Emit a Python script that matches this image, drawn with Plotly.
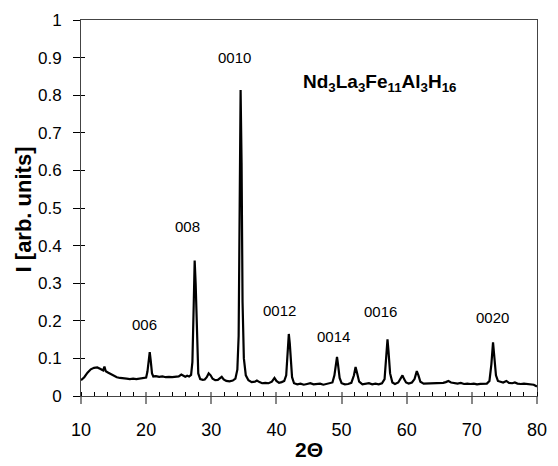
import plotly.graph_objects as go

# XRD pattern: diffraction angle 2-theta (deg) and normalised intensity
two_theta = [
    10.0, 10.5, 11.0, 11.5, 12.0, 12.5, 13.0, 13.4, 13.6, 13.8, 14.2, 14.6, 15.0, 15.5,
    16.0, 16.5, 17.0, 17.5, 18.0, 18.5, 19.0, 19.5, 20.0, 20.2, 20.4, 20.55, 20.7, 20.9,
    21.1, 21.5, 22.0, 22.5, 23.0, 23.5, 24.0, 24.5, 25.0, 25.4, 25.7, 26.0, 26.3, 26.6,
    26.9, 27.1, 27.3, 27.45, 27.6, 27.8, 28.0, 28.3, 28.7, 29.0, 29.3, 29.6, 29.9, 30.2,
    30.6, 31.0, 31.3, 31.6, 31.9, 32.3, 32.8, 33.3, 33.7, 34.0, 34.2, 34.35, 34.5, 34.65,
    34.8, 35.0, 35.3, 35.7, 36.2, 36.7, 37.0, 37.4, 37.8, 38.3, 38.8, 39.3, 39.7, 40.0,
    40.4, 40.8, 41.2, 41.5, 41.7, 41.9, 42.05, 42.2, 42.4, 42.7, 43.2, 43.7, 44.2, 44.7,
    45.2, 45.7, 46.2, 46.7, 47.2, 47.7, 48.2, 48.6, 48.9, 49.15, 49.3, 49.45, 49.7, 50.0,
    50.5, 51.0, 51.5, 51.9, 52.15, 52.4, 52.7, 53.2, 53.7, 54.2, 54.7, 55.2, 55.7, 56.2,
    56.6, 56.85, 57.05, 57.2, 57.45, 57.8, 58.2, 58.7, 59.1, 59.35, 59.6, 59.9, 60.3, 60.8,
    61.2, 61.55, 61.8, 62.1, 62.6, 63.1, 63.6, 64.1, 64.6, 65.1, 65.6, 66.0, 66.4, 66.8,
    67.3, 67.8, 68.3, 68.8, 69.3, 69.8, 70.3, 70.8, 71.3, 71.8, 72.3, 72.7, 73.0, 73.25,
    73.45, 73.7, 74.0, 74.4, 74.8, 75.3, 75.7, 76.2, 76.6, 77.0, 77.5, 78.0, 78.5, 79.0,
    79.5, 80.0,
]
intensity = [
    0.042, 0.050, 0.062, 0.071, 0.075, 0.076, 0.072, 0.068, 0.078, 0.066, 0.062, 0.058, 0.054, 0.050,
    0.048, 0.046, 0.046, 0.045, 0.046, 0.045, 0.046, 0.047, 0.049, 0.065, 0.100, 0.117, 0.095, 0.060,
    0.052, 0.053, 0.051, 0.052, 0.050, 0.051, 0.050, 0.050, 0.052, 0.057, 0.055, 0.051, 0.054, 0.052,
    0.056, 0.090, 0.240, 0.360, 0.300, 0.140, 0.060, 0.045, 0.043, 0.044, 0.050, 0.060, 0.055, 0.046,
    0.042, 0.043, 0.047, 0.051, 0.044, 0.040, 0.039, 0.041, 0.046, 0.070, 0.160, 0.450, 0.814, 0.620,
    0.250, 0.100, 0.055, 0.042, 0.037, 0.038, 0.041, 0.037, 0.034, 0.035, 0.034, 0.038, 0.048, 0.040,
    0.035, 0.037, 0.040, 0.055, 0.100, 0.165, 0.140, 0.090, 0.050, 0.034, 0.031, 0.033, 0.030, 0.032,
    0.034, 0.031, 0.031, 0.033, 0.030, 0.032, 0.033, 0.036, 0.055, 0.090, 0.104, 0.085, 0.048, 0.034,
    0.031, 0.032, 0.035, 0.055, 0.077, 0.060, 0.038, 0.031, 0.032, 0.034, 0.031, 0.033, 0.031, 0.034,
    0.045, 0.100, 0.151, 0.120, 0.060, 0.036, 0.032, 0.036, 0.048, 0.055, 0.045, 0.036, 0.033, 0.036,
    0.045, 0.066, 0.055, 0.038, 0.033, 0.033, 0.035, 0.033, 0.034, 0.033, 0.035, 0.037, 0.040, 0.036,
    0.034, 0.033, 0.035, 0.032, 0.033, 0.032, 0.033, 0.031, 0.032, 0.033, 0.033, 0.040, 0.085, 0.143,
    0.110, 0.055, 0.040, 0.038, 0.036, 0.040, 0.035, 0.034, 0.036, 0.033, 0.032, 0.033, 0.032, 0.032,
    0.030, 0.025,
]

# (00l) reflection labels and where they sit
peak_labels = ["006", "008", "0010", "0012", "0014", "0016", "0020"]
label_x = [19.8, 26.3, 33.5, 40.5, 48.8, 56.0, 73.1]
label_y = [0.19, 0.45, 0.90, 0.228, 0.157, 0.224, 0.208]

x_ticks = [10, 20, 30, 40, 50, 60, 70, 80]
y_ticks = [0, 0.1, 0.2, 0.3, 0.4, 0.5, 0.6, 0.7, 0.8, 0.9, 1]
y_tick_text = ["0", "0.1", "0.2", "0.3", "0.4", "0.5", "0.6", "0.7", "0.8", "0.9", "1"]

FONT = "Liberation Sans, Arial, Helvetica, sans-serif"

fig = go.Figure()
fig.add_trace(go.Scatter(
    x=two_theta, y=intensity, mode="lines",
    line=dict(color="black", width=2.2, shape="linear"),
    showlegend=False, hoverinfo="skip",
))
# invisible trace that carries the overlay axes (inward half of crossing ticks)
fig.add_trace(go.Scatter(x=[10, 80], y=[0, 1], mode="markers",
                         marker=dict(opacity=0), xaxis="x2", yaxis="y2",
                         showlegend=False, hoverinfo="skip"))

for txt, lx, ly in zip(peak_labels, label_x, label_y):
    fig.add_annotation(x=lx, y=ly, xref="x", yref="y", text=txt, showarrow=False,
                       font=dict(family=FONT, size=15, color="black"))

fig.add_annotation(x=55.9, y=0.832, xref="x", yref="y",
                   text="<b>Nd<sub>3</sub>La<sub>3</sub>Fe<sub>11</sub>Al<sub>3</sub>H<sub>16</sub></b>",
                   showarrow=False, font=dict(family=FONT, size=19, color="black"))

# axis titles
fig.add_annotation(x=0.5, y=-0.143, xref="paper", yref="paper", text="<b>2Θ</b>",
                   showarrow=False, yanchor="middle",
                   font=dict(family=FONT, size=21, color="black"))
fig.add_annotation(x=-0.126, y=0.495, xref="paper", yref="paper", text="<b>I [arb. units]</b>",
                   showarrow=False, textangle=-90, xanchor="center", yanchor="middle",
                   font=dict(family=FONT, size=22, color="black"))

fig.update_layout(
    width=558, height=466,
    margin=dict(l=81, r=11, t=15, b=70),
    paper_bgcolor="white", plot_bgcolor="white",
    font=dict(family=FONT, color="black"),
    xaxis=dict(
        range=[10, 80], tickvals=x_ticks, showgrid=False, zeroline=False,
        showline=True, linecolor="#444", linewidth=1, mirror=True,
        ticks="outside", ticklen=7, tickcolor="#888", tickwidth=1.5,
        ticklabelstandoff=10, tickfont=dict(family=FONT, size=18, color="black"),
        minor=dict(dtick=2, tick0=10, ticks="inside", ticklen=4, tickcolor="black", tickwidth=1),
    ),
    yaxis=dict(
        range=[0, 1], tickvals=y_ticks, ticktext=y_tick_text, showgrid=False, zeroline=False,
        showline=True, linecolor="#444", linewidth=1, mirror=True,
        ticks="outside", ticklen=7, tickcolor="black", tickwidth=1,
        ticklabelstandoff=8, tickfont=dict(family=FONT, size=17, color="black"),
    ),
    xaxis2=dict(range=[10, 80], overlaying="x", tickvals=x_ticks, showticklabels=False,
                ticks="inside", ticklen=4, tickcolor="#888", tickwidth=1.5,
                showgrid=False, zeroline=False, showline=False),
    yaxis2=dict(range=[0, 1], overlaying="y", tickvals=y_ticks, showticklabels=False,
                ticks="inside", ticklen=4, tickcolor="black", tickwidth=1,
                showgrid=False, zeroline=False, showline=False),
)

fig.write_html("out.html")
